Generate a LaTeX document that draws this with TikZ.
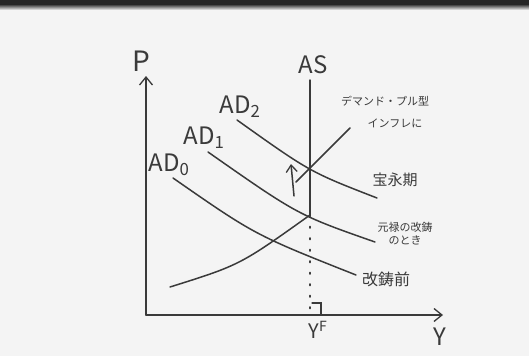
\documentclass[tikz,border=0pt]{standalone}
\usepackage{fontspec}
\newfontfamily\jp{Noto Sans CJK JP}
\usetikzlibrary{arrows.meta}
\definecolor{ink}{HTML}{3A3A3A}
\definecolor{paper}{HTML}{F4F4F4}
\begin{document}
\begin{tikzpicture}[x=1pt,y=-1pt,
  curve/.style={draw=ink,line width=1.5pt,line cap=round},
  axis/.style={curve,-{Straight Barb[length=8pt,width=13pt,line width=1.3pt]}},
  dots/.style={draw=ink,line width=1.6pt,line cap=round,dash pattern=on 1.5pt off 10pt},
  big/.style={text=ink,font=\jp\fontsize{24}{24}\selectfont,inner sep=0pt},
  jlab/.style={text=ink,font=\jp\fontsize{11}{13}\selectfont,inner sep=0pt,align=center}]
\fill[paper] (0,0) rectangle (529,356);
\fill[black!85] (0,0) rectangle (529,4);
\shade[top color=black!85,bottom color=paper] (0,4) rectangle (529,10);
\useasboundingbox (0,0) rectangle (529,356);
% axes
\coordinate (O) at (146,315);
\coordinate (Ptop) at (146,76);
\coordinate (Yend) at (443,315);
\draw[axis] (O) -- (Ptop);
\draw[axis] (O) -- (Yend);
\node[big,font=\jp\fontsize{28}{28}\selectfont] (P) at (141,61) {P};
\node[big] (Y) at (440,337) {Y};
% AS
\coordinate (AStop) at (310,80);
\coordinate (E1) at (310,215);
\coordinate (E2) at (310,168);
\coordinate (Yf) at (310,315);
\draw[curve] (AStop) -- (E1);
\draw[dots] (E1) -- (Yf);
\node[big] (AS) at (313,65) {AS};
\node[big,font=\jp\fontsize{20}{20}\selectfont] (YF) at (318,330) {Y\textsuperscript{F}};
\draw[curve,line width=1.2pt] (312,303) -- (321,303) -- (321,315);
% upward sloping supply
\coordinate (S0) at (170,287);
\draw[curve] (S0) .. controls (240,265) .. (E1);
\coordinate (S1) at (296,182);
\coordinate (S2) at (350,128);
\draw[curve] (S1) -- (S2);
% AD curves
\coordinate (A0s) at (173,178);
\coordinate (A0e) at (356,275);
\draw[curve] (A0s) .. controls (255,235) .. (A0e);
\coordinate (A1s) at (208,152);
\coordinate (A1e) at (375,242);
\draw[curve] (A1s) .. controls (298,215) .. (A1e);
\coordinate (A2s) at (237,120);
\coordinate (A2e) at (377,198);
\draw[curve] (A2s) .. controls (310,172) .. (A2e);
\node[big] (AD0) at (169,165) {AD\textsubscript{0}};
\node[big] (AD1) at (204,138) {AD\textsubscript{1}};
\node[big] (AD2) at (240,107) {AD\textsubscript{2}};
% up arrow
\coordinate (U0) at (294,196);
\coordinate (U1) at (291,164);
\draw[curve,-{Straight Barb[length=7pt,width=11pt,line width=1.3pt]}] (U0) -- (U1);
% Japanese labels
\node[jlab] (dp) at (385,101) {デマンド・プル型};
\node[jlab] (inf) at (395,123) {インフレに};
\node[jlab,font=\jp\fontsize{15}{15}\selectfont] (hoei) at (395,180) {宝永期};
\node[jlab,font=\jp\fontsize{11}{13}\selectfont] (genroku) at (405,234) {元禄の改鋳\\のとき};
\node[jlab,font=\jp\fontsize{16}{16}\selectfont] (mae) at (386,279) {改鋳前};
\end{tikzpicture}
\end{document}
